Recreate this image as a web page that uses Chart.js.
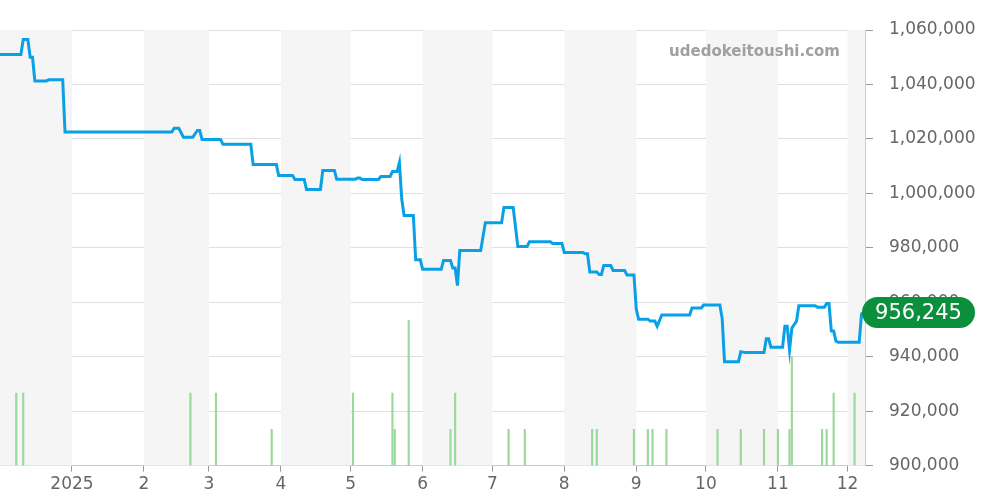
<!DOCTYPE html>
<html>
<head>
<meta charset="utf-8">
<script src="https://cdn.jsdelivr.net/npm/chart.js@4.4.1/dist/chart.umd.min.js"></script>
<style>
	html, body { margin: 0; padding: 0; background: #fff; overflow: hidden; }
	canvas { display: block; }
</style>
</head>
<body>
<canvas id="chart_price" width="1000" height="500"></canvas>
<script>
// days counted from 2024-12-01
const priceDays = [0, 9, 10, 12, 13, 14, 15, 20, 21, 27, 28, 74, 75, 77, 79, 83, 85, 86, 87, 95, 96, 108, 109, 119, 120, 126, 127, 131, 132, 138, 139, 144, 145, 153, 154, 155, 156, 163, 164, 168, 169, 171, 172, 173, 174, 178, 179, 181, 182, 190, 191, 194, 195, 196, 197, 198, 207, 209, 216, 217, 221, 223, 227, 228, 237, 238, 242, 243, 251, 252, 253, 254, 257, 258, 259, 260, 263, 264, 269, 270, 273, 274, 275, 279, 280, 282, 283, 285, 297, 298, 302, 303, 310, 311, 312, 318, 319, 321, 329, 330, 331, 332, 337, 338, 339, 340, 341, 343, 344, 351, 352, 355, 356, 357, 358, 359, 360, 361, 370, 371, 372];
const priceValues = [1051000, 1051000, 1056500, 1056500, 1050000, 1050000, 1041300, 1041300, 1041700, 1041700, 1022500, 1022500, 1023900, 1023900, 1020600, 1020600, 1023100, 1023100, 1019800, 1019800, 1018000, 1018000, 1010600, 1010600, 1006600, 1006600, 1005100, 1005100, 1001400, 1001400, 1008400, 1008400, 1005200, 1005200, 1005600, 1005600, 1005100, 1005100, 1006200, 1006200, 1008000, 1008000, 1011300, 998000, 991900, 991900, 975600, 975600, 972100, 972100, 975300, 975300, 972600, 972600, 966100, 979000, 979000, 989200, 989200, 994800, 994800, 980500, 980500, 982200, 982200, 981600, 981600, 978300, 978300, 977800, 977800, 971100, 971100, 970200, 970200, 973500, 973500, 971700, 971700, 970000, 970000, 957500, 953800, 953800, 953100, 953100, 951200, 955300, 955300, 957900, 957900, 959000, 959000, 954000, 938100, 938100, 941800, 941500, 941500, 946600, 946600, 943500, 943500, 951200, 951200, 942400, 950500, 953000, 958700, 958700, 958200, 958200, 959500, 959500, 949400, 949400, 945700, 945300, 945300, 955700, 956245];

const volumeDays = [7, 10, 82, 93, 117, 152, 169, 170, 176, 194, 196, 219, 226, 255, 257, 273, 279, 281, 287, 309, 319, 329, 335, 340, 341, 354, 356, 359, 368];
const volumeValues = [2, 2, 2, 2, 1, 2, 2, 1, 4, 1, 2, 1, 1, 1, 1, 1, 1, 1, 1, 1, 1, 1, 1, 1, 3, 1, 1, 2, 2];

const monthDays = [31, 62, 90, 121, 151, 182, 212, 243, 274, 304, 335, 365];
const monthLabels = ['2025', '2', '3', '4', '5', '6', '7', '8', '9', '10', '11', '12'];
const bandStarts = [0, 62, 121, 182, 243, 304, 365];
const bandEnds = [31, 90, 151, 212, 274, 335, 396];

const lastPrice = priceValues[priceValues.length - 1];

const bands = {
	id: 'bands',
	beforeDatasetsDraw(chart) {
		const { ctx, chartArea, scales } = chart;
		ctx.save();
		ctx.fillStyle = '#f5f5f5';
		bandStarts.forEach((s, i) => {
			const x0 = Math.max(scales.x.getPixelForValue(s), chartArea.left);
			const x1 = Math.min(scales.x.getPixelForValue(bandEnds[i]), chartArea.right);
			if (x1 > x0) ctx.fillRect(x0, chartArea.top, x1 - x0, chartArea.bottom - chartArea.top);
		});
		ctx.restore();
	},
	afterDraw(chart) {
		const { ctx, chartArea, scales } = chart;
		ctx.save();
		ctx.font = 'bold 15px "DejaVu Sans"';
		ctx.fillStyle = '#a0a0a0';
		ctx.textAlign = 'right';
		ctx.textBaseline = 'middle';
		ctx.fillText('udedokeitoushi.com', chartArea.right - 25, 52);

		const y = scales.y.getPixelForValue(lastPrice);
		const x0 = chartArea.right - 3, w = 113, h = 31;
		ctx.fillStyle = '#0a8f3c';
		ctx.beginPath();
		ctx.roundRect(x0, y - h / 2, w, h, h / 2);
		ctx.fill();
		ctx.fillStyle = '#fff';
		ctx.font = '21px "DejaVu Sans"';
		ctx.textAlign = 'center';
		ctx.fillText(lastPrice.toLocaleString('en-US'), x0 + w / 2, y + 1);
		ctx.restore();
	},
};

const price = document.getElementById('chart_price');

const chartPrice = new Chart(price, {
	data: {
		datasets: [
			{
				type: 'line',
				data: priceDays.map((d, i) => ({ x: d, y: priceValues[i] })),
				borderColor: '#0aa0e6',
				borderWidth: 3,
				pointRadius: 0,
				tension: 0,
				yAxisID: 'y',
				order: 1,
			},
			{
				type: 'bar',
				data: volumeDays.map((d, i) => ({ x: d, y: volumeValues[i] })),
				backgroundColor: '#9bd89b',
				barThickness: 1.5,
				yAxisID: 'vol',
				order: 2,
			},
		],
	},
	plugins: [bands],
	options: {
		responsive: false,
		animation: false,
		devicePixelRatio: 1,
		layout: { padding: { top: 30, left: 0, right: 0, bottom: 2 } },
		plugins: {
			legend: { display: false },
			tooltip: { enabled: false },
		},
		scales: {
			x: {
				type: 'linear',
				min: 0,
				max: 372.5,
				offset: false,
				afterBuildTicks: scale => {
					scale.ticks = monthDays.map(v => ({ value: v }));
				},
				ticks: {
					autoSkip: false,
					maxRotation: 0,
					color: '#666',
					font: { size: 17, family: 'DejaVu Sans' },
					callback: (v, i) => monthLabels[i],
				},
				grid: { offset: false, drawOnChartArea: false, drawTicks: true, tickLength: 6, color: '#999' },
				border: { color: '#ccc' },
			},
			y: {
				position: 'right',
				min: 900000,
				max: 1060000,
				ticks: {
					stepSize: 20000,
					color: '#666',
					padding: 16,
					font: { size: 17, family: 'DejaVu Sans' },
					callback: v => v.toLocaleString('en-US'),
				},
				grid: { color: '#e0e0e0', tickLength: 8, tickColor: '#999' },
				border: { color: '#ccc' },
				afterFit: scale => {
					scale.width = 135;
				},
			},
			vol: {
				display: false,
				min: 0,
				max: 12,
			},
		},
	},
});
</script>
</body>
</html>
